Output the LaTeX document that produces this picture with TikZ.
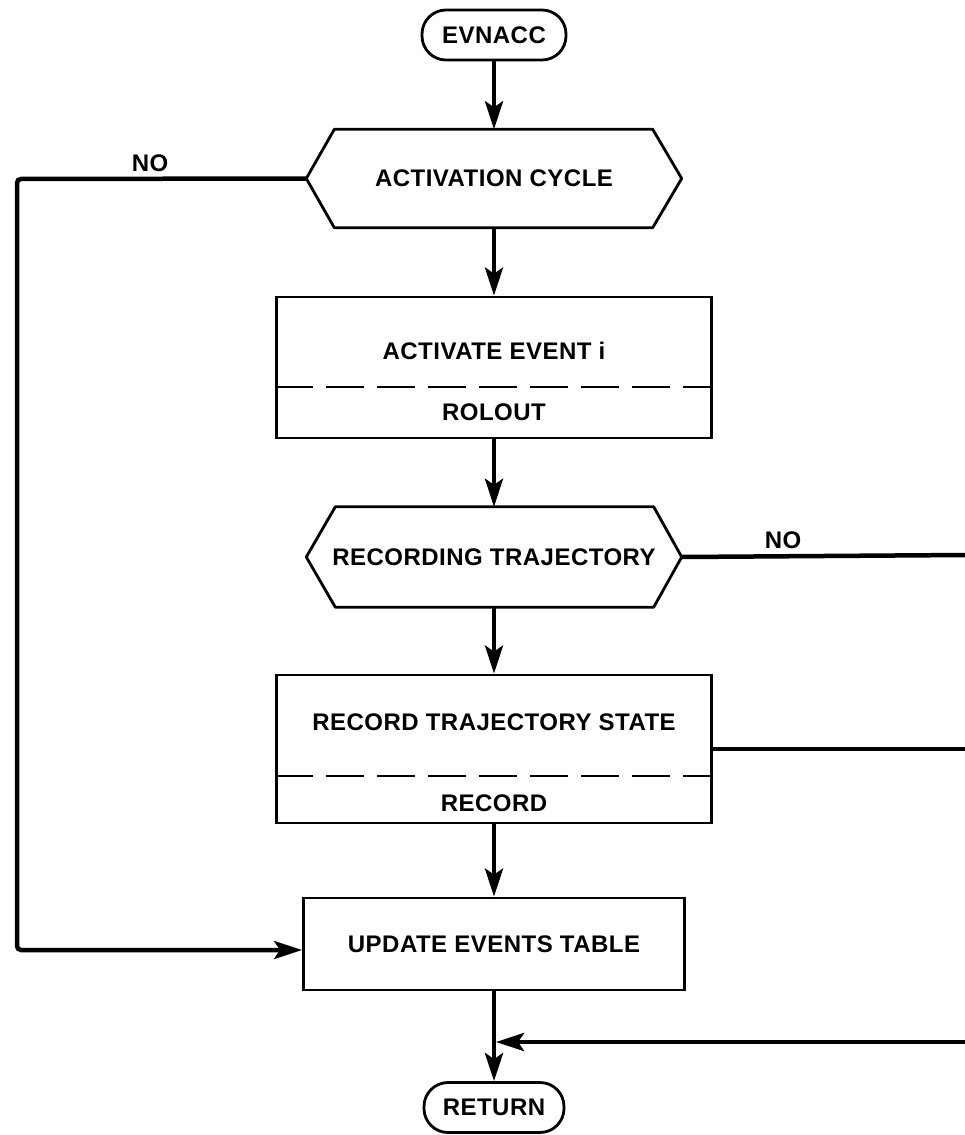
\documentclass[tikz,border=0pt]{standalone}
\usepackage{fontspec}
\setmainfont{Liberation Sans}
\newfontfamily\chartfont{Liberation Sans}[LetterSpace=2]
\usetikzlibrary{arrows.meta}
\begin{document}
\begin{tikzpicture}[x=1pt,y=-1pt,
  tag/.style={font=\chartfont\bfseries\fontsize{24}{27}\selectfont, inner sep=0pt},
  terminal/.style={tag, draw, line width=2.8pt, rounded corners=24pt, minimum height=50pt},
  frame/.style={draw, line width=2.8pt, inner sep=0pt},
  hexbox/.style={tag, minimum width=375pt, minimum height=98pt},
  hexline/.style={line width=2.8pt, line join=round},
  divider/.style={line width=2.6pt, dash pattern=on 38pt off 13pt},
  conn/.style={line width=4.5pt, rounded corners=4pt},
  flow/.style={conn, -{Stealth[length=28pt,width=18pt,inset=6pt]}}]

\useasboundingbox (0,0) rectangle (965,1135);

% start and end terminals
\node[terminal, minimum width=144pt] (start) at (494,35) {EVNACC};
\node[terminal, minimum width=140pt] (stop) at (494,1107.5) {RETURN};

% decision: activation cycle
\node[hexbox] (cycle) at (494,178.5) {ACTIVATION CYCLE};
\draw[hexline] (cycle.west) -- ([xshift=28pt]cycle.north west) -- ([xshift=-29pt]cycle.north east)
  -- (cycle.east) -- ([xshift=-29pt]cycle.south east) -- ([xshift=28pt]cycle.south west) -- cycle;

% process: activate event i / ROLOUT
\node[frame, minimum width=435pt, minimum height=141pt] (activate) at (494,367.5) {};
\node[tag] (activatetxt) at (494,351) {ACTIVATE EVENT i};
\node[tag] (rolout) at (494,412) {ROLOUT};
\draw[divider] (activate.west |- 0,387) -- (activate.east |- 0,387);

% decision: recording trajectory
\node[hexbox, minimum height=100pt] (recq) at (494,557) {RECORDING TRAJECTORY};
\draw[hexline] (recq.west) -- ([xshift=29pt]recq.north west) -- ([xshift=-28pt]recq.north east)
  -- (recq.east) -- ([xshift=-28pt]recq.south east) -- ([xshift=29pt]recq.south west) -- cycle;

% process: record trajectory state / RECORD
\node[frame, minimum width=435pt, minimum height=148pt] (record) at (494,749) {};
\node[tag] (recordtxt) at (494,722) {RECORD TRAJECTORY STATE};
\node[tag] (recordsub) at (494,803) {RECORD};
\draw[divider] (record.west |- 0,776) -- (record.east |- 0,776);

% process: update events table
\node[frame, tag, minimum width=381pt, minimum height=92pt] (update) at (494,944) {UPDATE EVENTS TABLE};

% main flow
\draw[flow] (start) -- (cycle);
\draw[flow] (cycle) -- (activate);
\draw[flow] (activate) -- (recq);
\draw[flow] (recq) -- (record);
\draw[flow] (record) -- (update);
\draw[flow] (update) -- (stop);

% NO branch of the activation cycle
\coordinate (bendtop) at (17,179);
\coordinate (bendlow) at (17,950);
\draw[flow] (cycle.west) -- (bendtop) -- (bendlow) -- (update.west |- bendlow);
\node[tag] (no1) at (150,163) {NO};

% lines leaving at the right edge
\coordinate (edge1) at (965,555);
\coordinate (edge2) at (965,749);
\coordinate (edge3) at (965,1042);
\draw[conn] (recq.east) -- (edge1);
\node[tag] (no2) at (783,540) {NO};
\draw[conn] (record.east |- edge2) -- (edge2);
\draw[flow] (edge3) -- ([xshift=2pt]update.south |- edge3);

\end{tikzpicture}
\end{document}
